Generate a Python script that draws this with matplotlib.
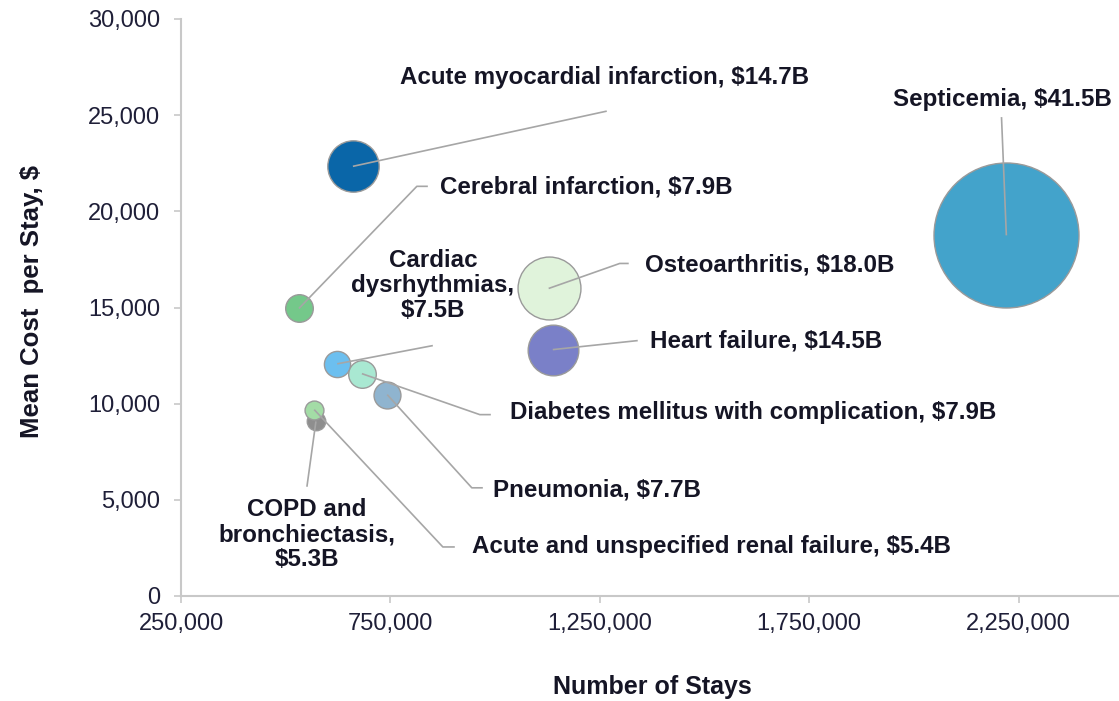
import matplotlib
matplotlib.use("Agg")
import matplotlib.pyplot as plt
from matplotlib.ticker import FuncFormatter

# ---- data ----
conditions = ["Septicemia", "Acute myocardial infarction", "Osteoarthritis", "Heart failure",
              "Cerebral infarction", "Cardiac dysrhythmias", "Diabetes mellitus with complication",
              "Pneumonia", "COPD and bronchiectasis", "Acute and unspecified renal failure"]
stays = [2221000, 660500, 1128000, 1137800, 531600, 623000, 682000, 742400, 572200, 568100]
mean_cost = [18750, 22340, 15990, 12810, 14950, 12070, 11560, 10470, 9080, 9690]
total_cost_b = [41.5, 14.7, 18.0, 14.5, 7.9, 7.5, 7.9, 7.7, 5.3, 5.4]
label_texts = ["Septicemia, $41.5B", "Acute myocardial infarction, $14.7B", "Osteoarthritis, $18.0B",
               "Heart failure, $14.5B", "Cerebral infarction, $7.9B", "Cardiac\ndysrhythmias,\n$7.5B",
               "Diabetes mellitus with complication, $7.9B", "Pneumonia, $7.7B",
               "COPD and\nbronchiectasis,\n$5.3B", "Acute and unspecified renal failure, $5.4B"]
x_ticks = [250000, 750000, 1250000, 1750000, 2250000]
y_ticks = [0, 5000, 10000, 15000, 20000, 25000, 30000]

# ---- style ----
colors = ["#43A3CB", "#0A66A8", "#E0F3DB", "#7A80C8", "#74C88A", "#6CBFEF",
          "#A9E8D2", "#8FB4CF", "#8E8E8E", "#A3DCA6"]
# label layout: (text x, text y, ha, elbow point, end point) in data units
label_layout = [
    (1949300, 25830, "left", (2209400, 24900), None),
    (772700, 26980, "left", (1266700, 25210), None),
    (1357400, 17190, "left", (1297700, 17290), (1319200, 17290)),
    (1369300, 13280, "left", (1340700, 13280), None),
    (868100, 21250, "left", (813200, 21300), (839500, 21300)),
    (851400, 16150, "center", (851400, 13020), None),
    (1035200, 9530, "left", (963600, 9430), (989900, 9430)),
    (994600, 5520, "left", (944500, 5625), (970800, 5625)),
    (550700, 3180, "center", (550700, 5680), None),
    (944500, 2550, "left", (875300, 2550), (903900, 2550)),
]
draw_order = [0, 1, 2, 3, 4, 8, 9, 5, 6, 7]

plt.rcParams['font.family'] = ['Liberation Sans', 'DejaVu Sans']
fig = plt.figure(figsize=(11.19, 7.01), dpi=100)
ax = fig.add_axes([181 / 1119, 105 / 701, (1119 - 181) / 1119, (596 - 19) / 701])

scale = 2.516  # points of diameter per $B
for k, i in enumerate(draw_order):
    ax.scatter(stays[i], mean_cost[i], s=(total_cost_b[i] * scale) ** 2, c=colors[i],
               edgecolors="#9a9a9a", linewidths=1.0, zorder=2 + k * 0.01)

txt_color = "#151525"
for i, (tx, ty, ha, elbow, end) in enumerate(label_layout):
    xs = [stays[i], elbow[0]]
    ys = [mean_cost[i], elbow[1]]
    if end is not None:
        xs.append(end[0]); ys.append(end[1])
    ax.plot(xs, ys, color="#a6a6a6", lw=1.2, zorder=4, solid_capstyle="butt")
    ax.text(tx, ty, label_texts[i], ha=ha, va="center", fontsize=17.4, fontweight="bold",
            color=txt_color, linespacing=1.12, zorder=5)

ax.set_xlim(250000, 2490000)
ax.set_ylim(0, 30000)
ax.set_xticks(x_ticks)
ax.set_yticks(y_ticks)
ax.xaxis.set_major_formatter(FuncFormatter(lambda v, p: f"{int(v):,}"))
ax.yaxis.set_major_formatter(FuncFormatter(lambda v, p: f"{int(v):,}"))
for s in ["top", "right"]:
    ax.spines[s].set_visible(False)
for s in ["left", "bottom"]:
    ax.spines[s].set_color("#c8c8c8")
    ax.spines[s].set_linewidth(1.5)
ax.tick_params(axis="both", colors="#c8c8c8", length=5, width=1.2, labelsize=17,
               labelcolor="#1f1f38")
ax.tick_params(axis="y", pad=10)
ax.tick_params(axis="x", pad=7)

ax.set_xlabel("Number of Stays", fontsize=18, fontweight="bold", color=txt_color)
ax.set_ylabel("Mean Cost  per Stay, $", fontsize=18.5, fontweight="bold", color=txt_color)
ax.xaxis.label.set_verticalalignment("center")
ax.yaxis.label.set_verticalalignment("center")
ax.xaxis.set_label_coords((652 - 181) / (1119 - 181), -(687 - 596) / (596 - 19))
ax.yaxis.set_label_coords(-(181 - 32) / (1119 - 181), (596 - 301) / (596 - 19))

fig.savefig("out.png", dpi=100)
